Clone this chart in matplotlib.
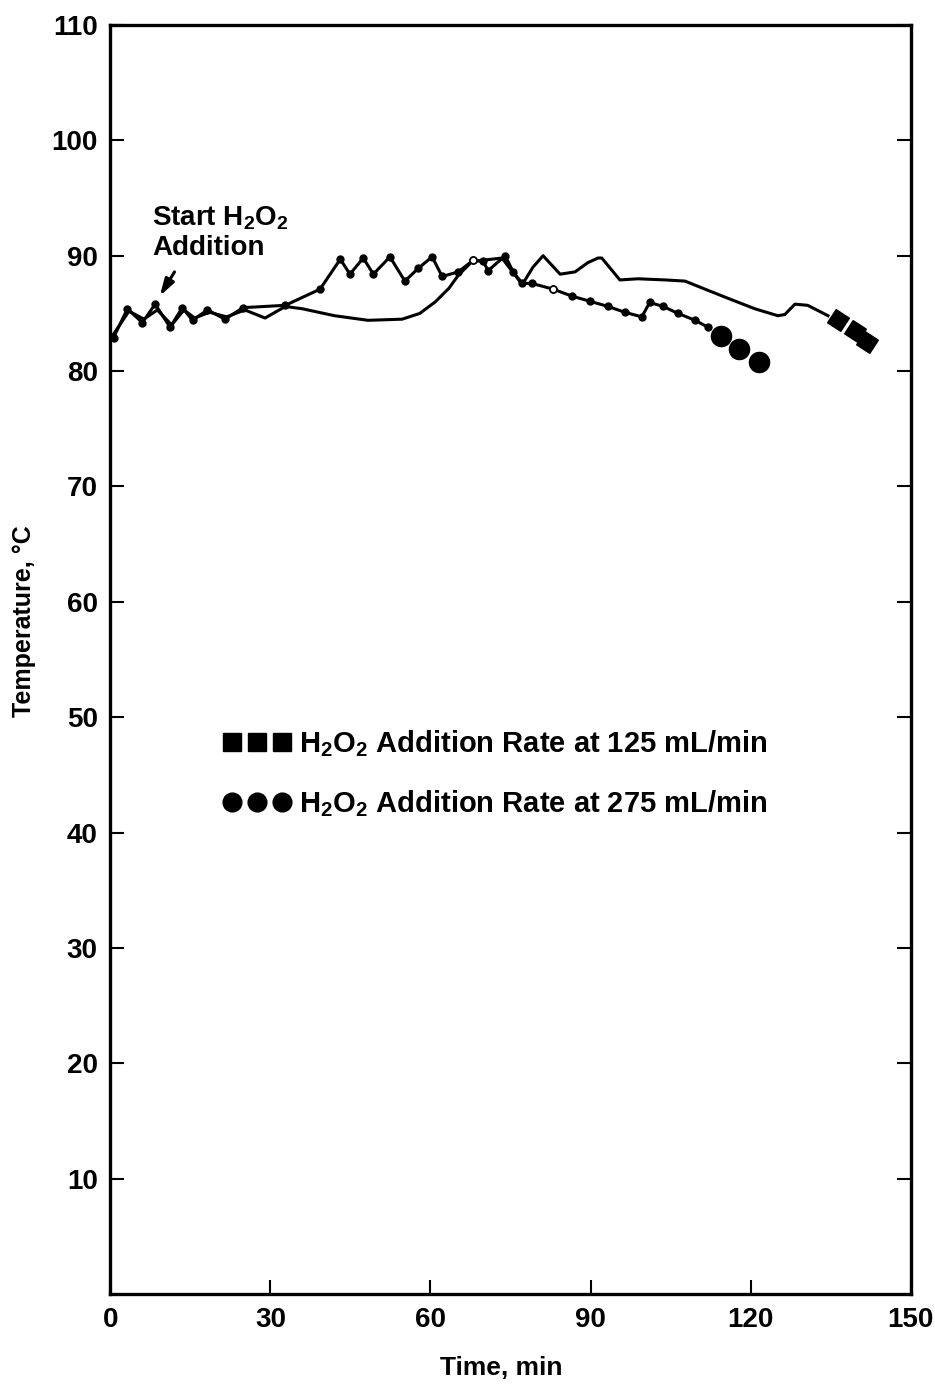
import matplotlib
matplotlib.use("Agg")
import matplotlib.pyplot as plt
from matplotlib.lines import Line2D

plt.rcParams['font.family'] = ['Liberation Sans', 'DejaVu Sans']
plt.rcParams['font.weight'] = 'bold'
plt.rcParams['axes.labelweight'] = 'bold'
plt.rcParams['mathtext.fontset'] = 'custom'
plt.rcParams['mathtext.rm'] = 'Liberation Sans:bold'
plt.rcParams['mathtext.default'] = 'rm'

# run at 275 mL/min (line with dots, ends in large circles)
t275 = [0.6, 3.2, 6.0, 8.4, 11.2, 13.5, 15.4, 18.2, 21.5, 24.9, 32.8, 39.3,
        43.1, 44.9, 47.4, 49.3, 52.4, 55.2, 57.7, 60.3, 62.2, 65.2, 68.0,
        69.9, 70.8, 74.0, 75.5, 77.2, 79.0, 83.0, 86.5, 89.9, 93.3, 96.4,
        99.6, 101.1, 103.6, 106.4, 109.6, 112.0]
T275 = [82.9, 85.4, 84.2, 85.8, 83.8, 85.5, 84.4, 85.3, 84.5, 85.5, 85.7, 87.1,
        89.7, 88.4, 89.8, 88.4, 89.9, 87.8, 88.9, 89.9, 88.2, 88.6, 89.6,
        89.5, 88.7, 90.0, 88.6, 87.6, 87.6, 87.1, 86.5, 86.05, 85.6, 85.1,
        84.7, 85.95, 85.6, 85.0, 84.4, 83.8]
open_idx = [22, 29]
t275_end = [114.4, 117.8, 121.5]
T275_end = [83.0, 81.9, 80.8]

# run at 125 mL/min (plain line, ends in large squares)
t125 = [0.6, 3.5, 6.3, 8.8, 11.5, 13.8, 15.8, 18.6, 21.8, 25.2, 29.0, 32.8,
        36.0, 42.0, 48.3, 54.7, 58.0, 60.9, 63.5, 65.2, 67.8, 73.4, 77.2,
        79.2, 81.1, 84.3, 87.1, 89.5, 91.4, 92.1, 95.5, 98.9, 104.0, 107.7,
        112.0, 115.8, 120.8, 125.1, 126.4, 128.3, 130.7, 134.5]
T125 = [83.2, 85.2, 84.5, 85.3, 84.0, 85.3, 84.6, 85.1, 84.7, 85.3, 84.6, 85.6,
        85.4, 84.8, 84.4, 84.5, 85.0, 86.0, 87.2, 88.3, 89.5, 89.8, 87.5,
        89.0, 90.0, 88.4, 88.6, 89.4, 89.8, 89.8, 87.9, 88.0, 87.9, 87.8,
        87.0, 86.3, 85.4, 84.8, 84.9, 85.8, 85.7, 84.8]
t125_end = [136.3, 139.5, 141.9]
T125_end = [84.4, 83.5, 82.5]

xticks = [0, 30, 60, 90, 120, 150]
yticks = [10, 20, 30, 40, 50, 60, 70, 80, 90, 100, 110]

fig = plt.figure(figsize=(9.35, 13.87), dpi=100)
ax = fig.add_axes([0.118, 0.067, 0.856, 0.915])

ax.plot(t125, T125, color='k', lw=2.2, solid_joinstyle='round')
ax.plot(t275, T275, color='k', lw=2.2, marker='o', ms=5, solid_joinstyle='round')
ax.plot([t275[i] for i in open_idx], [T275[i] for i in open_idx], ls='none',
        marker='o', ms=5, mfc='white', mec='k', mew=1.2)
ax.plot(t275_end, T275_end, ls='none', marker='o', ms=14.5, color='k')
ax.plot(t125_end, T125_end, ls='none', marker=(4, 0, 12), ms=16, color='k')

ax.annotate('', xy=(9.0, 86.3), xytext=(12.3, 88.8),
            arrowprops=dict(arrowstyle='-|>,head_length=1.0,head_width=0.3',
                            color='k', lw=2.2))
ax.text(7.8, 92.0, 'Start H$_2$O$_2$\nAddition', fontsize=20, ha='left',
        va='center', linespacing=1.12)

handles = [Line2D([], [], ls='none', marker='s', ms=13, color='k'),
           Line2D([], [], ls='none', marker='o', ms=13.5, color='k')]
labels = ['H$_2$O$_2$ Addition Rate at 125 mL/min',
          'H$_2$O$_2$ Addition Rate at 275 mL/min']
ax.legend(handles, labels, numpoints=3, handlelength=2.3, handletextpad=0.3,
          frameon=False, fontsize=21, loc='upper left', labelspacing=1.0,
          borderaxespad=0, bbox_to_anchor=(0.127, 0.455))

ax.set_xlim(0, 150)
ax.set_ylim(0, 110)
ax.set_xticks(xticks)
ax.set_yticks(yticks)
ax.tick_params(direction='in', length=10, width=1.5, labelsize=20,
               right=True, pad=9)
for s in ax.spines.values():
    s.set_linewidth(2.4)
ax.set_xlabel('Time, min', fontsize=19)
ax.set_ylabel('Temperature, °C', fontsize=18)
ax.xaxis.set_label_coords(0.488, -0.049)
ax.yaxis.set_label_coords(-0.093, 0.53)

fig.savefig('out.png', dpi=100)
